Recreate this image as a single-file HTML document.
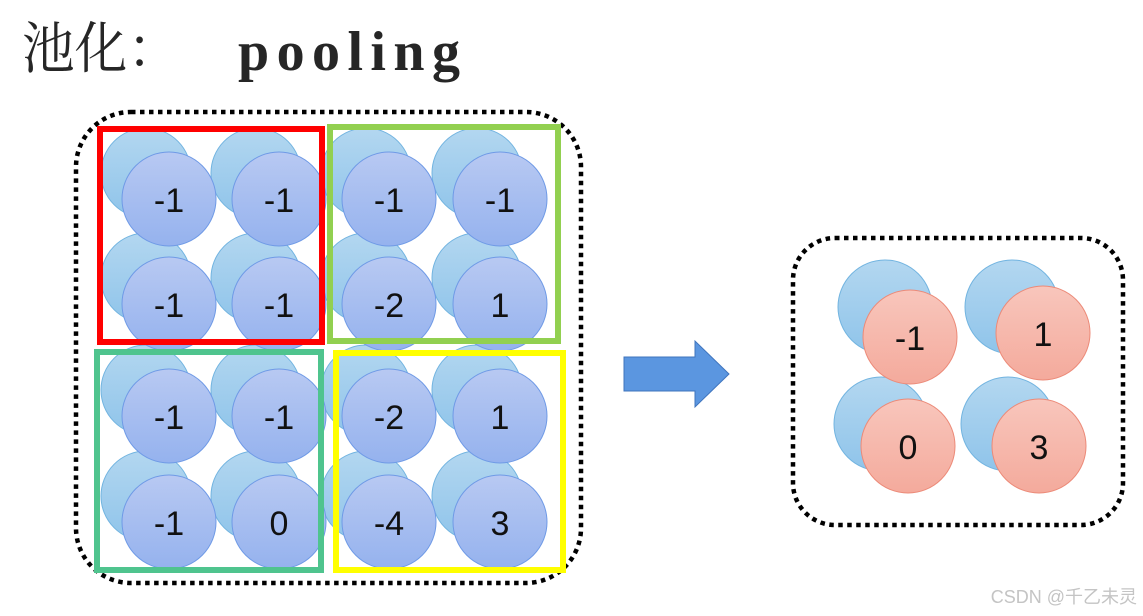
<!DOCTYPE html>
<html><head><meta charset="utf-8"><style>
html,body{margin:0;padding:0;background:#fff;width:1143px;height:616px;overflow:hidden}
</style></head><body>
<svg width="1143" height="616" xmlns="http://www.w3.org/2000/svg">
<defs>
<linearGradient id="gb" x1="0" y1="0" x2="0" y2="1"><stop offset="0" stop-color="#b3d7f0"/><stop offset="1" stop-color="#8fc4ea"/></linearGradient>
<linearGradient id="gf" x1="0" y1="0" x2="0" y2="1"><stop offset="0" stop-color="#b8c9f2"/><stop offset="1" stop-color="#95b2ee"/></linearGradient>
<linearGradient id="gr" x1="0" y1="0" x2="0" y2="1"><stop offset="0" stop-color="#f8c6bc"/><stop offset="1" stop-color="#f4aa9c"/></linearGradient>
</defs>
<text x="22" y="68" font-family="'Noto Serif CJK SC','Liberation Serif',serif" font-size="56" fill="#262626" textLength="158" lengthAdjust="spacingAndGlyphs">池化：</text>
<text x="238" y="70" font-family="'Liberation Serif',serif" font-size="56" font-weight="bold" fill="#262626" textLength="222" lengthAdjust="spacing">pooling</text>

<rect x="76" y="112" width="505" height="471" rx="55" fill="none" stroke="#000" stroke-width="4.5" stroke-dasharray="4.5 4.5"/>
<rect x="793" y="238" width="330" height="287" rx="42" fill="none" stroke="#000" stroke-width="4.5" stroke-dasharray="4.5 4.5"/>

<g stroke="#72b4e0" stroke-width="1" fill="url(#gb)">
<circle cx="146" cy="173" r="45"/><circle cx="256" cy="173" r="45"/><circle cx="366" cy="173" r="45"/><circle cx="477" cy="173" r="45"/>
<circle cx="146" cy="278" r="45"/><circle cx="256" cy="278" r="45"/><circle cx="366" cy="278" r="45"/><circle cx="477" cy="278" r="45"/>
<circle cx="146" cy="390" r="45"/><circle cx="256" cy="390" r="45"/><circle cx="366" cy="390" r="45"/><circle cx="477" cy="390" r="45"/>
<circle cx="146" cy="496" r="45"/><circle cx="256" cy="496" r="45"/><circle cx="366" cy="496" r="45"/><circle cx="477" cy="496" r="45"/>
<circle cx="885" cy="307" r="47"/><circle cx="1012" cy="307" r="47"/><circle cx="881" cy="424" r="47"/><circle cx="1008" cy="424" r="47"/>
</g>
<g stroke="#6f9ae6" stroke-width="1" fill="url(#gf)">
<circle cx="169" cy="199" r="47"/><circle cx="279" cy="199" r="47"/><circle cx="389" cy="199" r="47"/><circle cx="500" cy="199" r="47"/>
<circle cx="169" cy="304" r="47"/><circle cx="279" cy="304" r="47"/><circle cx="389" cy="304" r="47"/><circle cx="500" cy="304" r="47"/>
<circle cx="169" cy="416" r="47"/><circle cx="279" cy="416" r="47"/><circle cx="389" cy="416" r="47"/><circle cx="500" cy="416" r="47"/>
<circle cx="169" cy="522" r="47"/><circle cx="279" cy="522" r="47"/><circle cx="389" cy="522" r="47"/><circle cx="500" cy="522" r="47"/>
</g>
<g stroke="#ec8a78" stroke-width="1" fill="url(#gr)">
<circle cx="910" cy="337" r="47"/><circle cx="1043" cy="333" r="47"/><circle cx="908" cy="446" r="47"/><circle cx="1039" cy="446" r="47"/>
</g>
<g font-family="'Liberation Sans','DejaVu Sans',sans-serif" font-size="34" fill="#111" text-anchor="middle">
<text x="169" y="212">-1</text><text x="279" y="212">-1</text><text x="389" y="212">-1</text><text x="500" y="212">-1</text>
<text x="169" y="317">-1</text><text x="279" y="317">-1</text><text x="389" y="317">-2</text><text x="500" y="317">1</text>
<text x="169" y="429">-1</text><text x="279" y="429">-1</text><text x="389" y="429">-2</text><text x="500" y="429">1</text>
<text x="169" y="535">-1</text><text x="279" y="535">0</text><text x="389" y="535">-4</text><text x="500" y="535">3</text>
<text x="910" y="350">-1</text><text x="1043" y="346">1</text><text x="908" y="459">0</text><text x="1039" y="459">3</text>
</g>

<rect x="100" y="129" width="222" height="213" fill="none" stroke="#ff0000" stroke-width="6"/>
<rect x="330" y="127" width="228" height="214" fill="none" stroke="#92d050" stroke-width="6"/>
<rect x="97" y="352" width="224" height="218" fill="none" stroke="#4fc48e" stroke-width="6"/>
<rect x="336" y="353" width="227" height="217" fill="none" stroke="#ffff00" stroke-width="6"/>

<polygon points="624,357 695,357 695,341 729,374 695,407 695,391 624,391" fill="#5b96e0" stroke="#3f74bd" stroke-width="1"/>

<text x="1137" y="603" text-anchor="end" font-family="'Liberation Sans','Noto Sans CJK SC',sans-serif" font-size="18" fill="#c4c4c4">CSDN @千乙未灵</text>
</svg>
</body></html>
